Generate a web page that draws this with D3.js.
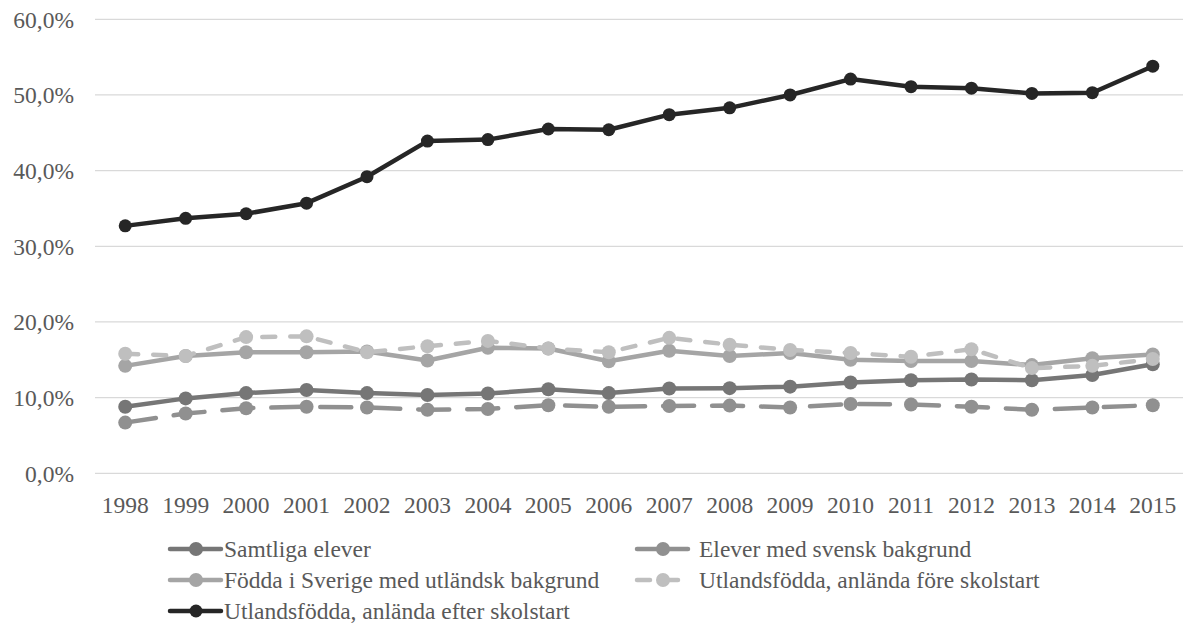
<!DOCTYPE html>
<html><head><meta charset="utf-8">
<script src="https://cdn.jsdelivr.net/npm/d3@7"></script>
<style>
html,body{margin:0;padding:0;background:#fff;}
</style></head>
<body><svg id="chart" width="1184" height="629" font-family="'Liberation Serif', 'Times New Roman', Tinos, 'DejaVu Serif', serif"></svg>
<script>
const years = ["1998","1999","2000","2001","2002","2003","2004","2005","2006","2007","2008","2009","2010","2011","2012","2013","2014","2015"];
const yTicks = [0,10,20,30,40,50,60];
const seriesNames = ["Samtliga elever","Elever med svensk bakgrund","Födda i Sverige med utländsk bakgrund","Utlandsfödda, anlända före skolstart","Utlandsfödda, anlända efter skolstart"];
const samtliga = [8.8,9.9,10.6,11.0,10.6,10.35,10.55,11.1,10.6,11.2,11.25,11.45,12.0,12.3,12.4,12.3,13.0,14.4];
const svensk   = [6.7,7.9,8.6,8.8,8.7,8.4,8.5,9.0,8.8,8.9,8.95,8.7,9.15,9.1,8.8,8.4,8.7,9.0];
const fodda    = [14.2,15.5,16.0,16.0,16.1,14.9,16.6,16.5,14.8,16.2,15.5,15.9,15.0,14.85,14.85,14.3,15.2,15.7];
const fore     = [15.8,15.5,18.0,18.1,16.0,16.8,17.5,16.5,16.0,17.9,17.0,16.3,15.9,15.4,16.4,13.9,14.2,15.1];
const efter    = [32.7,33.7,34.3,35.7,39.2,43.9,44.1,45.5,45.4,47.4,48.3,50.0,52.1,51.1,50.9,50.2,50.3,53.8];

const colors = ["#767676","#909090","#a5a5a5","#bfbfbf","#262626"];
const dashes = [null,"31,18",null,"13,15",null];
const radii = [7,7,7,7,6.5];
const allValues = [samtliga,svensk,fodda,fore,efter];
const textColor = "#595959";
const fontSize = 23.5;

const svg = d3.select("#chart");
const x = d3.scaleBand().domain(years).range([95,1183]);
const y = d3.scaleLinear().domain([0,60]).range([473.3,19.3]);

svg.append("g").selectAll("line").data(yTicks).join("line")
  .attr("x1",95).attr("x2",1183)
  .attr("y1",d=>y(d)).attr("y2",d=>y(d))
  .attr("stroke","#d9d9d9").attr("stroke-width",1.3);

svg.append("g").selectAll("text").data(yTicks).join("text")
  .attr("x",74).attr("y",d=>y(d)).attr("dy","0.35em")
  .attr("text-anchor","end").attr("font-size",fontSize).attr("fill",textColor)
  .text(d=>d3.format(".1f")(d).replace(".",",")+"%");

svg.append("g").selectAll("text").data(years).join("text")
  .attr("x",d=>x(d)+x.bandwidth()/2).attr("y",505).attr("dy","0.35em")
  .attr("text-anchor","middle").attr("font-size",fontSize).attr("fill",textColor)
  .text(d=>d);

const line = d3.line().x((d,i)=>x(years[i])+x.bandwidth()/2).y(d=>y(d));

allValues.forEach((vals,si)=>{
  const g = svg.append("g");
  g.append("path").datum(vals).attr("d",line)
    .attr("fill","none").attr("stroke",colors[si]).attr("stroke-width",4.5)
    .attr("stroke-linejoin","round").attr("stroke-linecap","round")
    .attr("stroke-dasharray",dashes[si]);
  g.selectAll("circle").data(vals).join("circle")
    .attr("cx",(d,i)=>x(years[i])+x.bandwidth()/2).attr("cy",d=>y(d))
    .attr("r",radii[si]).attr("fill",colors[si]);
});

const legCols = [170,637];
const legRows = [549,580,611];
seriesNames.forEach((name,i)=>{
  const lx = legCols[i%2], ly = legRows[Math.floor(i/2)];
  const g = svg.append("g");
  g.append("line").attr("x1",lx).attr("x2",lx+51).attr("y1",ly).attr("y2",ly)
    .attr("stroke",colors[i]).attr("stroke-width",4.5).attr("stroke-linecap","round")
    .attr("stroke-dasharray", i===3 ? "13,15" : null);
  g.append("circle").attr("cx",lx+26).attr("cy",ly).attr("r",radii[i]).attr("fill",colors[i]);
  g.append("text").attr("x", lx + (i%2===0 ? 54 : 62)).attr("y",ly).attr("dy","0.35em")
    .attr("font-size",fontSize).attr("fill",textColor).text(name);
});
</script></body></html>
